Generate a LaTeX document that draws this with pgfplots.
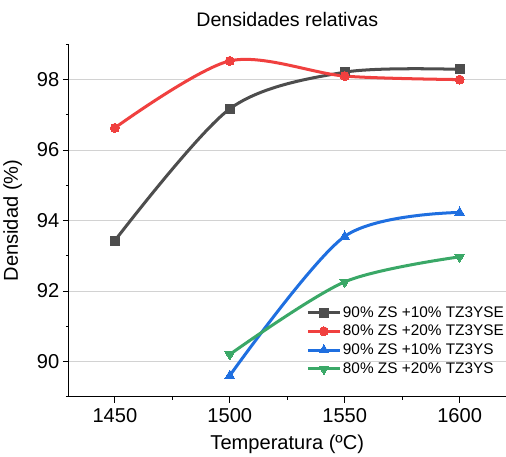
\documentclass[border=0pt]{standalone}
\usepackage{pgfplots}
\pgfplotsset{compat=1.18}
\usepackage{fontspec}
\setmainfont{Liberation Sans}
\definecolor{cblack}{HTML}{4D4D4D}
\definecolor{cred}{HTML}{F0403F}
\definecolor{cblue}{HTML}{1F6FE0}
\definecolor{cgreen}{HTML}{3AA867}
\begin{document}
\begin{tikzpicture}
\begin{axis}[
  width=435pt, height=351pt, scale only axis,
  xmin=1430, xmax=1620, ymin=89, ymax=99,
  axis x line*=bottom, axis y line*=left,
  xtick={1450,1500,1550,1600}, minor xtick={1475,1525,1575},
  ytick={90,92,94,96,98}, minor ytick={89,91,93,95,97,99},
  tick align=outside, major tick length=6pt, minor tick length=3pt,
  tick style={black, line width=0.8pt}, axis line style={black, line width=0.8pt},
  ymajorgrids, grid style={gray!35, line width=0.6pt},
  xticklabel style={/pgf/number format/1000 sep={}, yshift=-2pt},
  /pgf/number format/assume math mode=true,
  tick label style={font=\fontsize{20}{22}\selectfont},
  label style={font=\fontsize{20}{22}\selectfont},
  ylabel style={yshift=8pt}, xlabel style={yshift=-5pt},
  title={Densidades relativas}, title style={font=\fontsize{19.5}{22}\selectfont, yshift=8pt},
  xlabel={Temperatura (ºC)}, ylabel={Densidad (\%)},
  legend style={at={(rel axis cs:1,0.05)}, anchor=south east, draw=none, fill=none,
    font=\fontsize{15.3}{17}\selectfont, row sep=2.5pt, inner xsep=0pt,
    nodes={inner xsep=1.5pt}},
  legend cell align=left,
  legend image code/.code={\draw[mark repeat=2,mark phase=2,#1] plot coordinates {(0pt,0pt) (16pt,0pt) (32pt,0pt)};},
  every axis plot/.append style={line width=3pt, smooth, tension=0.5},
]
\addplot[cblack, mark=square*, mark size=4.5pt, mark options={line width=0pt}] coordinates {(1450,93.43)(1500,97.17)(1550,98.21)(1600,98.29)};
\addplot[cred, mark=*, mark size=4.5pt, mark options={line width=0pt}] coordinates {(1450,96.63)(1500,98.53)(1550,98.10)(1600,98.00)};
\addplot[cblue, mark=triangle*, mark size=5.5pt, mark options={line width=0pt}] coordinates {(1500,89.60)(1550,93.55)(1600,94.23)};
\addplot[cgreen, mark=triangle*, mark size=5.5pt, mark options={line width=0pt, rotate=180}] coordinates {(1500,90.20)(1550,92.26)(1600,92.97)};
\legend{90\% ZS +10\% TZ3YSE, 80\% ZS +20\% TZ3YSE, 90\% ZS +10\% TZ3YS, 80\% ZS +20\% TZ3YS}
\end{axis}
\path (current bounding box.north) ++(0,9pt);
\end{tikzpicture}
\end{document}
